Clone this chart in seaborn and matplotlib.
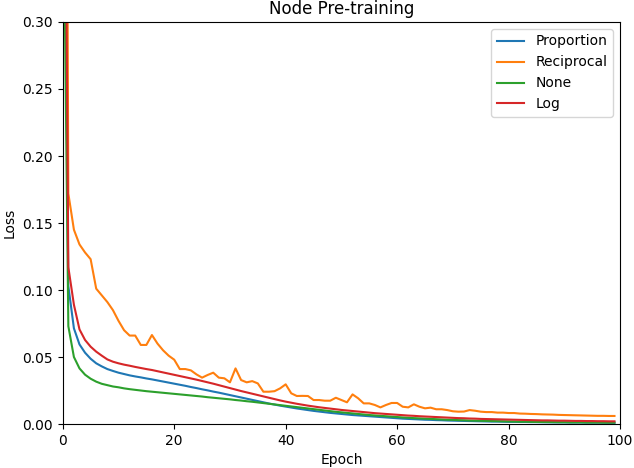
import pandas as pd
import matplotlib
matplotlib.use("Agg")
import matplotlib.pyplot as plt
import seaborn as sns

epochs = list(range(100))

proportion = [
    0.55, 0.103, 0.0714, 0.0594, 0.0532, 0.0487, 0.0453, 0.0430, 0.0410, 0.0396,
    0.0383, 0.0373, 0.0363, 0.0355, 0.0348, 0.0340, 0.0333, 0.0325, 0.0317, 0.0309,
    0.0301, 0.0293, 0.0285, 0.0276, 0.0268, 0.0259, 0.0251, 0.0242, 0.0234, 0.0225,
    0.0216, 0.0207, 0.0198, 0.0189, 0.0180, 0.0171, 0.0162, 0.0153, 0.0145, 0.0137,
    0.0130, 0.0123, 0.0116, 0.0110, 0.0104, 0.0098, 0.0093, 0.0088, 0.0083, 0.0079,
    0.0075, 0.0071, 0.0067, 0.0064, 0.0061, 0.0058, 0.0055, 0.0052, 0.0049, 0.0046,
    0.0043, 0.0040, 0.0038, 0.0036, 0.0034, 0.0032, 0.0031, 0.0029, 0.0028, 0.0026,
    0.0025, 0.0024, 0.0023, 0.0022, 0.0021, 0.0020, 0.0019, 0.0018, 0.0018, 0.0017,
    0.0016, 0.0016, 0.0015, 0.0015, 0.0014, 0.0014, 0.0013, 0.0013, 0.0012, 0.0012,
    0.0012, 0.0011, 0.0011, 0.0011, 0.0010, 0.0010, 0.0010, 0.0010, 0.0009, 0.0009,
]

reciprocal = [
    1.20, 0.172, 0.145, 0.134, 0.128, 0.123, 0.101, 0.096, 0.091, 0.085,
    0.077, 0.070, 0.066, 0.066, 0.059, 0.059, 0.0664, 0.060, 0.055, 0.051,
    0.048, 0.041, 0.041, 0.040, 0.037, 0.0346, 0.0366, 0.0383, 0.0346, 0.0341,
    0.0311, 0.0415, 0.0328, 0.0311, 0.0320, 0.0303, 0.0241, 0.0241, 0.0245, 0.0266,
    0.0296, 0.0229, 0.0209, 0.0210, 0.0209, 0.0179, 0.0179, 0.0174, 0.0174, 0.0196,
    0.0179, 0.0162, 0.0221, 0.0192, 0.0154, 0.0154, 0.0142, 0.0124, 0.0142, 0.0157,
    0.0157, 0.0129, 0.0124, 0.0147, 0.0129, 0.0117, 0.0122, 0.0110, 0.0110, 0.0104,
    0.0095, 0.0092, 0.0093, 0.0104, 0.0099, 0.0092, 0.0089, 0.0089, 0.0085, 0.0085,
    0.0082, 0.0082, 0.0078, 0.0077, 0.0075, 0.0074, 0.0072, 0.0071, 0.0070, 0.0068,
    0.0067, 0.0066, 0.0065, 0.0064, 0.0063, 0.0062, 0.0061, 0.0061, 0.0060, 0.0060,
]

none = [
    0.45, 0.073, 0.050, 0.0415, 0.0368, 0.0338, 0.0316, 0.0300, 0.0290, 0.0280,
    0.0274, 0.0266, 0.0260, 0.0255, 0.0250, 0.0245, 0.0241, 0.0237, 0.0233, 0.0229,
    0.0225, 0.0221, 0.0217, 0.0213, 0.0209, 0.0205, 0.0200, 0.0196, 0.0192, 0.0188,
    0.0184, 0.0179, 0.0175, 0.0170, 0.0166, 0.0161, 0.0156, 0.0151, 0.0146, 0.0141,
    0.0136, 0.0131, 0.0126, 0.0121, 0.0116, 0.0111, 0.0106, 0.0101, 0.0096, 0.0091,
    0.0087, 0.0083, 0.0079, 0.0075, 0.0071, 0.0067, 0.0064, 0.0061, 0.0058, 0.0055,
    0.0052, 0.0049, 0.0047, 0.0044, 0.0042, 0.0040, 0.0038, 0.0036, 0.0034, 0.0032,
    0.0031, 0.0029, 0.0028, 0.0026, 0.0025, 0.0024, 0.0023, 0.0022, 0.0021, 0.0020,
    0.0019, 0.0018, 0.0017, 0.0017, 0.0016, 0.0015, 0.0015, 0.0014, 0.0014, 0.0013,
    0.0013, 0.0012, 0.0012, 0.0012, 0.0011, 0.0011, 0.0011, 0.0010, 0.0010, 0.0010,
]

log = [
    0.70, 0.117, 0.089, 0.0706, 0.0627, 0.0577, 0.0540, 0.0510, 0.0482, 0.0465,
    0.0453, 0.0443, 0.0435, 0.0426, 0.0418, 0.0410, 0.0403, 0.0394, 0.0385, 0.0376,
    0.0367, 0.0358, 0.0349, 0.0340, 0.0331, 0.0321, 0.0311, 0.0301, 0.0290, 0.0279,
    0.0268, 0.0257, 0.0246, 0.0236, 0.0226, 0.0216, 0.0206, 0.0196, 0.0186, 0.0176,
    0.0167, 0.0159, 0.0151, 0.0144, 0.0137, 0.0131, 0.0125, 0.0120, 0.0115, 0.0110,
    0.0105, 0.0101, 0.0097, 0.0093, 0.0089, 0.0085, 0.0081, 0.0078, 0.0075, 0.0072,
    0.0069, 0.0066, 0.0063, 0.0061, 0.0058, 0.0056, 0.0054, 0.0052, 0.0050, 0.0048,
    0.0046, 0.0044, 0.0043, 0.0041, 0.0040, 0.0038, 0.0037, 0.0036, 0.0035, 0.0034,
    0.0033, 0.0032, 0.0031, 0.0030, 0.0029, 0.0028, 0.0027, 0.0027, 0.0026, 0.0025,
    0.0025, 0.0024, 0.0023, 0.0023, 0.0022, 0.0022, 0.0021, 0.0021, 0.0020, 0.0020,
]

series = {"Proportion": proportion, "Reciprocal": reciprocal, "None": none, "Log": log}
colors = ["#1f77b4", "#ff7f0e", "#2ca02c", "#d62728"]

df = pd.concat(
    [pd.DataFrame({"Epoch": epochs, "Loss": vals, "Method": name}) for name, vals in series.items()],
    ignore_index=True,
)

fig = plt.figure(figsize=(6.34, 4.68), dpi=100)
ax = sns.lineplot(data=df, x="Epoch", y="Loss", hue="Method",
                  hue_order=list(series.keys()), palette=colors, linewidth=1.5)
ax.set_xlim(0, 100)
ax.set_ylim(0, 0.30)
ax.set_title("Node Pre-training")
ax.set_xlabel("Epoch")
ax.set_ylabel("Loss")
sns.move_legend(ax, "upper right", title=None)
plt.subplots_adjust(left=0.099, right=0.978, bottom=0.094, top=0.953)
plt.savefig("out.png", dpi=100)
